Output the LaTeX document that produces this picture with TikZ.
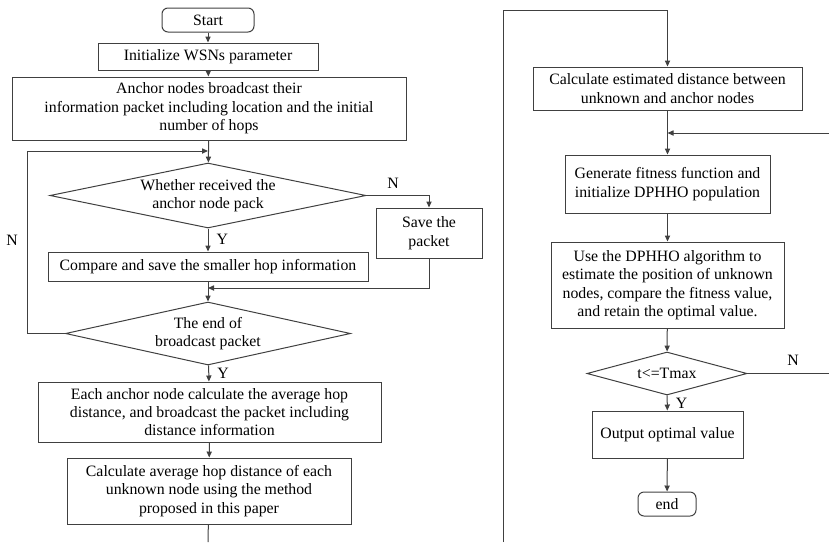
\documentclass[tikz,border=0pt]{standalone}
\usepackage{fontspec}
\setmainfont{Liberation Serif}
\usetikzlibrary{shapes.geometric}
\usetikzlibrary{arrows.meta}

\begin{document}
\begin{tikzpicture}[x=0.5pt, y=-0.5pt, font=\fontsize{7.9}{9.2}\selectfont,
	line/.style={draw=black!75, line width=0.5pt},
	arr/.style={line, -{Triangle[length=3pt, width=2.6pt]}},
	blk/.style={draw=black!75, line width=0.5pt, align=center, inner sep=0pt},
	term/.style={blk, rounded corners=3pt},
	dec/.style={blk, diamond, aspect=4.5},
	lbl/.style={inner sep=0pt}]
\useasboundingbox (0,0) rectangle (829,542);

% left column
\node[term, minimum width=46pt, minimum height=12pt] (start) at (208,20) {Start};
\node[blk, minimum width=110pt, minimum height=13.5pt] (init) at (208,56.5) {Initialize WSNs parameter};
\node[blk, minimum width=197pt, minimum height=31.5pt] (anchor) at (209,108.5) {Anchor nodes broadcast their\\information packet including location and the initial\\number of hops};
\node[dec, aspect=4.86, minimum width=158pt, minimum height=32.5pt] (recv) at (208,195.5) {Whether received the\\anchor node pack};
\node[blk, minimum width=53pt, minimum height=25pt] (save) at (429,233) {Save the\\packet};
\node[blk, minimum width=160pt, minimum height=14.5pt] (comp) at (208,266.5) {Compare and save the smaller hop information};
\node[dec, minimum width=142.5pt, minimum height=31.5pt] (endb) at (208,333.5) {The end of\\broadcast packet};
\node[blk, minimum width=171.5pt, minimum height=30pt] (each) at (209.5,412) {Each anchor node calculate the average hop\\distance, and broadcast the packet including\\distance information};
\node[blk, minimum width=142pt, minimum height=33pt] (avg) at (209,491) {Calculate average hop distance of each\\unknown node using the method\\proposed in this paper};

% right column
\node[blk, minimum width=134.5pt, minimum height=21.5pt] (est) at (667.5,88.5) {Calculate estimated distance between\\unknown and anchor nodes};
\node[blk, minimum width=102.5pt, minimum height=29pt] (gen) at (667.5,184) {Generate fitness function and\\initialize DPHHO population};
\node[blk, minimum width=116.5pt, minimum height=43pt] (use) at (667.5,285) {Use the DPHHO algorithm to\\estimate the position of unknown\\nodes, compare the fitness value,\\and retain the optimal value.};
\node[dec, aspect=3.7, minimum width=80pt, minimum height=21.5pt] (tmax) at (667,373.5) {t<=Tmax};
\node[blk, minimum width=75.5pt, minimum height=23.5pt] (out) at (667.5,434.5) {Output optimal value};
\node[term, minimum width=29pt, minimum height=12pt] (fin) at (667,504) {end};

\node[lbl] (nrecv) at (393,183) {N};
\node[lbl] (nloop) at (12,240) {N};
\node[lbl] (ntmax) at (793,360) {N};

\coordinate (back) at (208,151);
\coordinate (join) at (208,288);
\coordinate (cut1) at (208,542);
\coordinate (cut2) at (503,542);
\coordinate (turn) at (503,10);
\coordinate (ret) at (829,133);
\coordinate (exit) at (829,373.5);

\draw[arr] (start) -- (init);
\draw[arr] (init) -- (anchor);
\draw[arr] (anchor) -- (recv);
\draw[arr] (recv.east) -| (save);
\draw[arr] (recv) -- node[lbl, right=4pt, pos=0.45] (yrecv) {Y} (comp);
\draw[arr] (save.south) |- (join);
\draw[arr] (comp) -- (endb);
\draw[arr] (endb.west) -- ++(-38,0) |- (back);
\draw[arr] (endb) -- node[lbl, right=4pt, pos=0.5] (yendb) {Y} (each);
\draw[arr] (each) -- (avg);
\draw[line] (avg) -- (cut1);

\draw[arr] (cut2) -- (turn) -| (est);
\draw[arr] (est) -- (gen);
\draw[arr] (ret) -- (est.south |- ret);
\draw[arr] (gen) -- (use);
\draw[arr] (use) -- (tmax);
\draw[line] (tmax.east) -- (exit);
\draw[arr] (tmax) -- node[lbl, right=4pt, pos=0.5] (ytmax) {Y} (out);
\draw[arr] (out) -- (fin);
\end{tikzpicture}
\end{document}
